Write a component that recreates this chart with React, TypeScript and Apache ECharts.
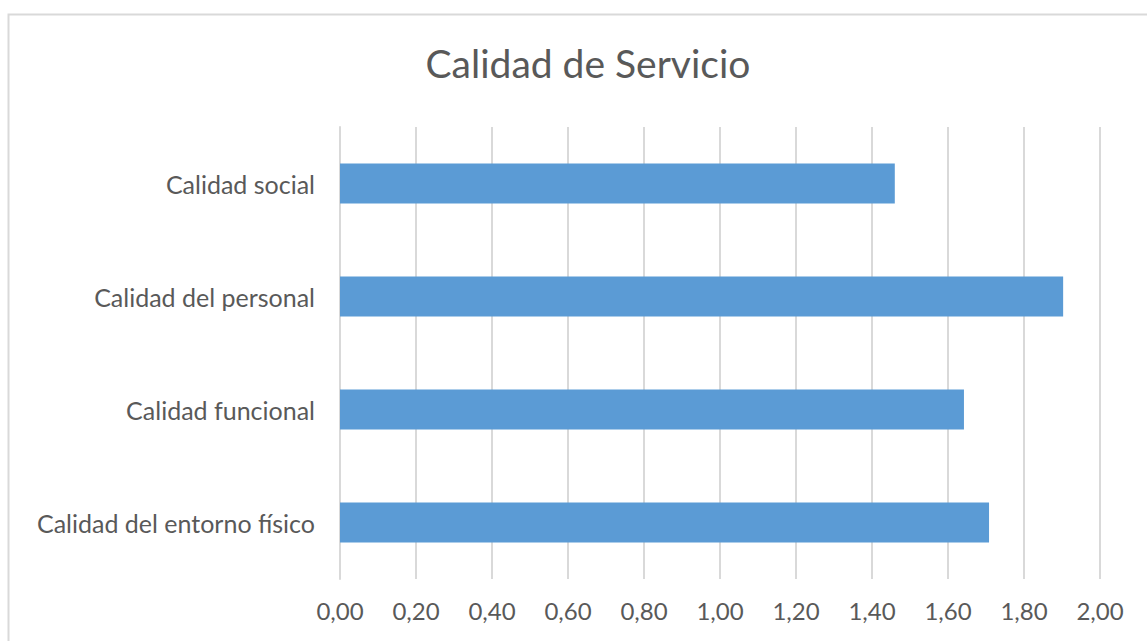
import React, { useEffect, useRef } from "react";
import * as echarts from "echarts";

const titleText = "Calidad de Servicio";
const categories = [
  "Calidad social",
  "Calidad del personal",
  "Calidad funcional",
  "Calidad del entorno físico",
];
const values = [1.46, 1.903, 1.642, 1.708];
const axisMin = 0;
const axisMax = 2;
const axisStep = 0.2;

export default function App() {
  const ref = useRef<HTMLDivElement>(null);
  useEffect(() => {
    if (!ref.current) return;
    const chart = echarts.init(ref.current, undefined, { renderer: "svg" });
    const font = "Lato, 'Noto Sans', sans-serif";
    chart.setOption({
      animation: false,
      backgroundColor: "#ffffff",
      title: {
        text: titleText,
        left: 583,
        textAlign: "center",
        top: 38,
        textStyle: { fontFamily: font, fontSize: 39, fontWeight: "normal", color: "#595959" },
      },
      graphic: [
        {
          type: "rect",
          shape: { x: 8.5, y: 14.5, width: 1160, height: 660 },
          style: { fill: "none", stroke: "#d9d9d9", lineWidth: 2 },
          silent: true,
        },
      ],
      grid: { left: 340, right: 47, top: 127, bottom: 62, containLabel: false },
      xAxis: {
        type: "value",
        min: axisMin,
        max: axisMax,
        interval: axisStep,
        axisLine: { show: false },
        axisTick: { show: false },
        splitLine: { show: true, lineStyle: { color: "#d9d9d9", width: 2 } },
        axisLabel: {
          margin: 19,
          fontFamily: font,
          fontSize: 24,
          color: "#595959",
          formatter: (v: number) => v.toFixed(2).replace(".", ","),
        },
      },
      yAxis: {
        type: "category",
        data: categories,
        inverse: true,
        axisLine: { show: true, lineStyle: { color: "#d9d9d9", width: 2 } },
        axisTick: { show: false },
        axisLabel: { margin: 25, fontFamily: font, fontSize: 25, color: "#595959" },
      },
      series: [
        {
          type: "bar",
          data: values,
          barWidth: 40,
          itemStyle: { color: "#5b9bd5" },
        },
      ],
    });
    return () => chart.dispose();
  }, []);
  return (
    <div
      ref={ref}
      style={{ position: "absolute", left: 0, top: 0, width: 1147, height: 641 }}
    />
  );
}
